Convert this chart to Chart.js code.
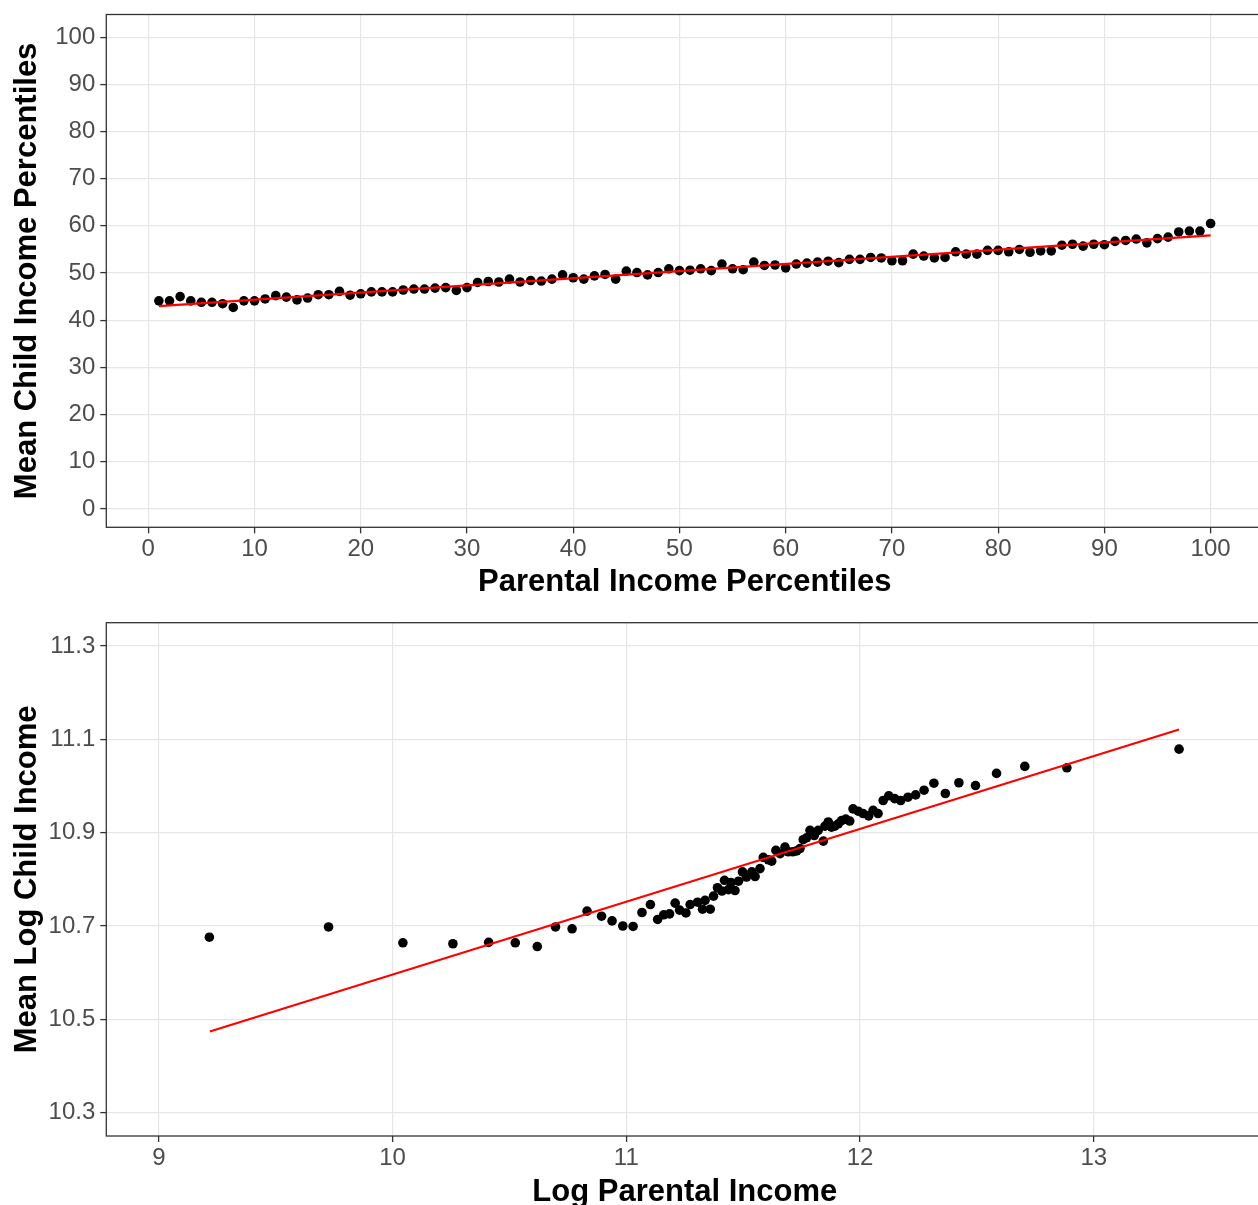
<!DOCTYPE html>
<html><head><meta charset="utf-8">
<script src="https://cdn.jsdelivr.net/npm/chart.js@4/dist/chart.umd.min.js"></script>
<style>
html,body{margin:0;padding:0;background:#fff;overflow:hidden;width:1258px;height:1205px;position:relative;}
#c1{position:absolute;left:0;top:0;}
#c2{position:absolute;left:0;top:605px;}
</style></head><body>
<canvas id="c1" width="1268" height="605" style="width:1268px;height:605px"></canvas>
<canvas id="c2" width="1268" height="620" style="width:1268px;height:620px"></canvas>
<script>
// ---- Panel 1 data: parental income percentile vs mean child income percentile
const pctX = [1,2,3,4,5,6,7,8,9,10,11,12,13,14,15,16,17,18,19,20,21,22,23,24,25,26,27,28,29,30,
  31,32,33,34,35,36,37,38,39,40,41,42,43,44,45,46,47,48,49,50,51,52,53,54,55,56,57,58,59,60,
  61,62,63,64,65,66,67,68,69,70,71,72,73,74,75,76,77,78,79,80,81,82,83,84,85,86,87,88,89,90,
  91,92,93,94,95,96,97,98,99,100];
const pctY = [44.1,44.1,45.0,44.1,43.8,43.8,43.5,42.7,44.1,44.1,44.5,45.2,44.9,44.3,44.7,45.4,45.4,46.1,45.3,45.6,
  46.0,46.0,46.0,46.4,46.6,46.6,46.8,46.9,46.3,46.9,48.0,48.2,48.1,48.7,48.1,48.4,48.3,48.7,49.6,49.0,
  48.7,49.4,49.7,48.7,50.4,50.1,49.6,50.1,50.9,50.5,50.6,50.9,50.5,51.9,50.9,50.7,52.3,51.6,51.7,51.1,
  51.9,52.1,52.3,52.5,52.2,52.9,52.9,53.3,53.2,52.6,52.6,54.0,53.6,53.2,53.3,54.5,54.0,54.0,54.8,54.8,
  54.5,55.0,54.4,54.7,54.7,55.9,56.1,55.7,56.1,56.0,56.7,56.9,57.2,56.4,57.3,57.6,58.7,58.9,58.9,60.5];
const pctFitX = [1, 100];
const pctFitY = [43.0, 58.0];
const pctXTicks = [0,10,20,30,40,50,60,70,80,90,100];
const pctYTicks = [0,10,20,30,40,50,60,70,80,90,100];

// ---- Panel 2 data: log parental income vs mean log child income
const logX = [9.216,9.726,10.044,10.258,10.411,10.525,10.619,10.697,10.768,10.832,
  10.894,10.939,10.985,11.029,11.067,11.103,11.134,11.160,11.185,11.209,
  11.228,11.255,11.273,11.305,11.326,11.337,11.359,11.373,11.390,11.409,
  11.420,11.437,11.448,11.465,11.480,11.497,11.514,11.537,11.551,11.572,
  11.586,11.608,11.622,11.640,11.658,11.679,11.693,11.712,11.729,11.743,
  11.757,11.771,11.786,11.804,11.821,11.843,11.850,11.864,11.878,11.892,
  11.907,11.921,11.939,11.956,11.970,11.992,12.013,12.037,12.056,12.077,
  12.099,12.123,12.148,12.174,12.205,12.238,12.274,12.316,12.365,12.423,
  12.494,12.584,12.705,12.885,13.365];
const logY = [10.676,10.698,10.664,10.662,10.665,10.664,10.656,10.698,10.694,10.732,
  10.721,10.711,10.700,10.699,10.729,10.746,10.714,10.724,10.726,10.749,
  10.734,10.728,10.746,10.751,10.736,10.755,10.736,10.764,10.782,10.775,
  10.798,10.778,10.793,10.776,10.796,10.816,10.805,10.816,10.806,10.823,
  10.847,10.842,10.839,10.862,10.855,10.869,10.859,10.859,10.861,10.866,
  10.885,10.889,10.905,10.894,10.905,10.882,10.914,10.923,10.912,10.914,
  10.919,10.926,10.929,10.925,10.951,10.946,10.941,10.936,10.948,10.941,
  10.969,10.979,10.973,10.969,10.976,10.981,10.991,11.006,10.984,11.007,
  11.001,11.027,11.042,11.039,11.079];
const logFitX = [9.218, 13.365];
const logFitY = [10.474, 11.121];
const logXTicks = [9,10,11,12,13];
const logXLabels = ["9","10","11","12","13"];
const logYTicks = [10.3,10.5,10.7,10.9,11.1,11.3];
const logYLabels = ["10.3","10.5","10.7","10.9","11.1","11.3"];

const FAMILY = "'Liberation Sans', Arial, Helvetica, sans-serif";

const framePlugin = {
  id: 'frame',
  afterDatasetsDraw(chart) {
    const {ctx, chartArea: a} = chart;
    ctx.save();
    ctx.strokeStyle = '#333333';
    ctx.lineWidth = 1.3;
    ctx.strokeRect(a.left, a.top, a.right - a.left, a.bottom - a.top);
    ctx.restore();
  }
};

function zip(xs, ys) { return xs.map((x, i) => ({x: x, y: ys[i]})); }

function axis(cfg) {
  return {
    type: 'linear',
    min: cfg.min, max: cfg.max,
    afterBuildTicks: s => { s.ticks = cfg.ticks.map(v => ({value: v})); },
    afterFit: s => {
      if (cfg.width !== undefined) s.width = cfg.width;
      if (cfg.height !== undefined) s.height = cfg.height;
      s.paddingTop = 0; s.paddingBottom = 0; s.paddingLeft = 0; s.paddingRight = 0;
    },
    ticks: {
      color: '#4D4D4D', font: {family: FAMILY, size: 24}, padding: cfg.tickPad,
      autoSkip: false, maxRotation: 0, minRotation: 0,
      callback: (v) => { const i = cfg.ticks.indexOf(v); return i >= 0 ? cfg.labels[i] : ''; }
    },
    grid: {color: '#E6E6E6', lineWidth: 1.2, drawTicks: true, tickLength: 6, tickColor: '#333333', tickWidth: 1.3},
    border: {display: false},
    title: {display: true, text: cfg.title, color: '#000',
      font: {family: FAMILY, size: 31, weight: 'bold', lineHeight: 1},
      padding: cfg.titlePad}
  };
}

function makeChart(id, pts, fit, xCfg, yCfg, padTop) {
  return new Chart(document.getElementById(id), {
    type: 'scatter',
    data: {datasets: [
      {data: fit, showLine: true, borderColor: '#FF0000', borderWidth: 2.2, pointRadius: 0, order: 0, fill: false},
      {data: pts, backgroundColor: '#000000', borderWidth: 0, pointRadius: 4.8, pointHoverRadius: 4.8, order: 1}
    ]},
    options: {
      responsive: false, animation: false, devicePixelRatio: 1,
      layout: {padding: {top: padTop, right: 1.5, left: 0, bottom: 0}},
      plugins: {legend: {display: false}, tooltip: {enabled: false}},
      scales: {x: axis(xCfg), y: axis(yCfg)}
    },
    plugins: [framePlugin]
  });
}

makeChart('c1', zip(pctX, pctY), zip(pctFitX, pctFitY),
  {min: -3.95, max: 104.95, ticks: pctXTicks, labels: pctXTicks.map(String), height: 77.7, tickPad: 2,
   title: 'Parental Income Percentiles', titlePad: {top: 0, bottom: 7.5}},
  {min: -3.9, max: 104.8, ticks: pctYTicks, labels: pctYTicks.map(String), width: 106.3, tickPad: 5,
   title: 'Mean Child Income Percentiles', titlePad: {top: 11.5, bottom: 0}},
  14.5);

makeChart('c2', zip(logX, logY), zip(logFitX, logFitY),
  {min: 8.775, max: 13.725, ticks: logXTicks, labels: logXLabels, height: 89, tickPad: 2,
   title: 'Log Parental Income', titlePad: {top: 0, bottom: 17.5}},
  {min: 10.25, max: 11.35, ticks: logYTicks, labels: logYLabels, width: 106.3, tickPad: 5,
   title: 'Mean Log Child Income', titlePad: {top: 11.5, bottom: 0}},
  17.7);
</script>
</body></html>
